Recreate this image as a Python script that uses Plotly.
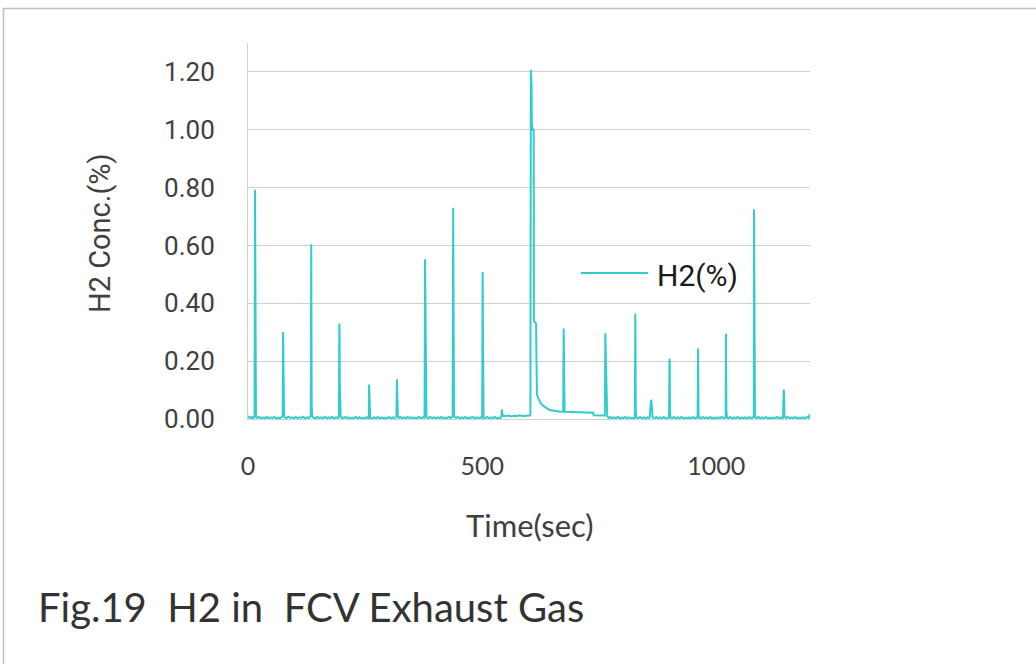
import plotly.graph_objects as go

# ---------------- data ----------------
series_name = "H2(%)"
x_title = "Time(sec)"
y_title = "H2 Conc.(%)"
caption = "Fig.19  H2 in  FCV Exhaust Gas"
y_tickvals = [0.0, 0.2, 0.4, 0.6, 0.8, 1.0, 1.2]
y_ticktext = ["0.00", "0.20", "0.40", "0.60", "0.80", "1.00", "1.20"]
x_tickvals = [0, 500, 1000]

time_sec = [
    0, 2, 5, 8, 11, 13,
    14, 15, 15.5, 16, 17,
    20, 24, 28, 32, 36, 40, 44, 48, 52, 56, 60, 64, 68, 72,
    74, 75, 75.5, 76, 77, 78,
    82, 86, 90, 94, 98, 102, 106, 110, 114, 118, 122, 126, 130, 133,
    134, 135, 136, 137,
    140, 144, 148, 152, 156, 160, 164, 168, 172, 176, 180, 184, 188, 192,
    194, 195, 195.5, 196, 197, 198,
    202, 206, 210, 214, 218, 222, 226, 230, 234, 238, 242, 246, 250, 254, 257,
    258, 258.5, 259.5, 261,
    265, 269, 273, 277, 281, 285, 289, 293, 297, 301, 305, 309, 313, 316,
    317, 318, 318.5, 319, 320, 321,
    325, 329, 333, 337, 341, 345, 349, 353, 357, 361, 365, 369, 373, 376,
    377, 378, 378.5, 379, 380, 381,
    385, 389, 393, 397, 401, 405, 409, 413, 417, 421, 425, 429, 433, 436,
    437, 438, 439, 440,
    444, 448, 452, 456, 460, 464, 468, 472, 476, 480, 484, 488, 492, 496, 499,
    500, 501, 502, 503,
    507, 511, 515, 519, 523, 527, 531, 535, 539,
    541, 542, 543, 544,
    550, 556, 562, 568, 574, 580, 586, 592, 598, 602,
    603, 604, 604.5, 605, 605.5, 606, 607, 608, 610, 610.5, 615, 616, 617, 619, 621, 624,
    627, 631, 635, 640, 646, 652, 660, 668, 672,
    673, 674, 674.5, 675, 676,
    690, 710, 737, 738, 750, 762,
    763, 765, 767,
    770, 774, 778, 782, 786, 790, 794, 798, 802, 806, 810, 814, 818, 822, 825,
    826, 827, 828, 829,
    833, 837, 841, 845, 849, 853, 857,
    858, 859, 860, 861, 862, 863, 864,
    868, 872, 876, 880, 884, 888, 892, 896, 898,
    899, 900, 900.5, 901, 902,
    906, 910, 914, 918, 922, 926, 930, 934, 938, 942, 946, 950, 954, 959,
    960, 961, 962, 963,
    967, 971, 975, 979, 983, 987, 991, 995, 999, 1003, 1007, 1011, 1015, 1019,
    1020, 1020.5, 1021.5, 1022.5,
    1026, 1030, 1034, 1038, 1042, 1046, 1050, 1054, 1058, 1062, 1066, 1070, 1074, 1079,
    1080, 1080.5, 1081.5, 1082.5,
    1086, 1090, 1094, 1098, 1102, 1106, 1110, 1114, 1118, 1122, 1126, 1130, 1134, 1138, 1142,
    1142.5, 1143.5, 1144, 1144.5, 1145.5,
    1149, 1153, 1157, 1161, 1165, 1169, 1173, 1177, 1181, 1185, 1189, 1193, 1197, 1198.5, 1199, 1200,
]

h2_pct = [
    0.004, 0.008, 0.003, 0.007, 0.002, 0.006,
    0.010, 0.793, 0.426, 0.020, 0.008,
    0.004, 0.007, 0.002, 0.006, 0.003, 0.008, 0.002, 0.006, 0.004, 0.007, 0.002, 0.005, 0.003, 0.006,
    0.012, 0.301, 0.190, 0.150, 0.020, 0.006,
    0.003, 0.008, 0.004, 0.006, 0.002, 0.007, 0.003, 0.006, 0.004, 0.008, 0.002, 0.006, 0.004, 0.007,
    0.015, 0.604, 0.050, 0.010,
    0.005, 0.002, 0.007, 0.004, 0.006, 0.003, 0.008, 0.003, 0.006, 0.004, 0.007, 0.002, 0.006, 0.004,
    0.010, 0.330, 0.300, 0.120, 0.030, 0.006,
    0.003, 0.007, 0.004, 0.006, 0.002, 0.005, 0.003, 0.007, 0.002, 0.006, 0.001, 0.005, 0.003, 0.006, 0.002,
    0.010, 0.119, 0.010, 0.004,
    0.001, 0.006, 0.002, 0.007, 0.003, 0.006, 0.002, 0.005, 0.003, 0.007, 0.002, 0.006, 0.003, 0.006,
    0.010, 0.137, 0.090, 0.060, 0.010, 0.004,
    0.007, 0.003, 0.006, 0.002, 0.007, 0.004, 0.006, 0.002, 0.005, 0.003, 0.007, 0.003, 0.006, 0.004,
    0.012, 0.552, 0.440, 0.400, 0.020, 0.006,
    0.003, 0.007, 0.004, 0.006, 0.002, 0.006, 0.003, 0.007, 0.002, 0.005, 0.003, 0.007, 0.003, 0.006,
    0.010, 0.730, 0.050, 0.008,
    0.004, 0.007, 0.002, 0.006, 0.003, 0.007, 0.002, 0.005, 0.004, 0.007, 0.002, 0.006, 0.003, 0.006, 0.004,
    0.010, 0.508, 0.020, 0.005,
    0.003, 0.007, 0.002, 0.006, 0.003, 0.007, 0.002, 0.005, 0.003,
    0.008, 0.033, 0.012, 0.010,
    0.010, 0.012, 0.009, 0.011, 0.010, 0.013, 0.010, 0.011, 0.010, 0.012,
    0.020, 1.207, 1.160, 1.160, 1.150, 1.020, 1.000, 1.000, 1.000, 0.339, 0.330, 0.090, 0.085, 0.075, 0.065, 0.058,
    0.050, 0.045, 0.040, 0.035, 0.030, 0.028, 0.026, 0.025, 0.025,
    0.030, 0.313, 0.120, 0.060, 0.025,
    0.024, 0.023, 0.022, 0.013, 0.013, 0.012,
    0.296, 0.100, 0.010,
    0.003, 0.007, 0.002, 0.006, 0.003, 0.008, 0.002, 0.005, 0.003, 0.007, 0.002, 0.006, 0.003, 0.005, 0.004,
    0.010, 0.365, 0.030, 0.005,
    0.003, 0.007, 0.002, 0.006, 0.003, 0.006, 0.004,
    0.010, 0.035, 0.060, 0.067, 0.050, 0.020, 0.006,
    0.003, 0.007, 0.002, 0.006, 0.003, 0.007, 0.002, 0.005, 0.004,
    0.012, 0.208, 0.200, 0.020, 0.006,
    0.003, 0.007, 0.002, 0.006, 0.003, 0.007, 0.002, 0.005, 0.003, 0.006, 0.002, 0.007, 0.003, 0.005,
    0.010, 0.244, 0.020, 0.005,
    0.003, 0.007, 0.002, 0.006, 0.003, 0.007, 0.002, 0.005, 0.003, 0.006, 0.002, 0.007, 0.003, 0.005,
    0.012, 0.296, 0.030, 0.005,
    0.003, 0.007, 0.002, 0.006, 0.003, 0.007, 0.002, 0.005, 0.003, 0.006, 0.002, 0.007, 0.003, 0.005,
    0.012, 0.725, 0.050, 0.006,
    0.003, 0.007, 0.002, 0.006, 0.003, 0.007, 0.002, 0.005, 0.003, 0.006, 0.002, 0.007, 0.003, 0.005, 0.004,
    0.010, 0.080, 0.102, 0.090, 0.010,
    0.003, 0.007, 0.002, 0.006, 0.003, 0.007, 0.002, 0.005, 0.003, 0.006, 0.002, 0.007, 0.003, 0.004, 0.015, 0.015,
]

# ---------------- styling / layout ----------------
W, H = 1036, 664
PL, PR, PT, PB = 248, 810, 43, 419  # plot area in pixels
LINE = "#33CCCC"
GRID = "#d0d0d0"
TXT = "#404040"
YFONT = "Roboto"
LATIN = "Lato"


def px(xp):
    return (xp - PL) / (PR - PL)


def py(yp):
    return (PB - yp) / (PB - PT)


fig = go.Figure()
fig.add_trace(go.Scatter(
    x=time_sec, y=h2_pct, mode="lines", name=series_name,
    line=dict(color=LINE, width=2), showlegend=False, hoverinfo="skip",
))

fig.update_layout(
    width=W, height=H,
    margin=dict(l=PL, r=W - PR, t=PT, b=H - PB, pad=0),
    paper_bgcolor="white", plot_bgcolor="white",
    xaxis=dict(
        range=[0, 1200], tickvals=x_tickvals, showgrid=False, zeroline=False,
        showline=True, linecolor=GRID, linewidth=1, ticks="",
        tickfont=dict(family=LATIN, size=25, color=TXT),
        ticklabelstandoff=25, layer="below traces",
    ),
    yaxis=dict(
        range=[0, 1.3], tickvals=y_tickvals, ticktext=y_ticktext,
        showgrid=True, gridcolor=GRID, gridwidth=1, zeroline=False,
        showline=True, linecolor=GRID, linewidth=1, ticks="",
        tickfont=dict(family=YFONT, size=26, color=TXT),
        ticklabelstandoff=27, layer="below traces",
    ),
    shapes=[
        # chart border (partially cropped in the original)
        dict(type="line", xref="paper", yref="paper", x0=px(3), x1=px(1040), y0=py(8.5), y1=py(8.5),
             line=dict(color="#bfbfbf", width=1.5), layer="above"),
        dict(type="line", xref="paper", yref="paper", x0=px(3.5), x1=px(3.5), y0=py(8), y1=py(670),
             line=dict(color="#bfbfbf", width=1.5), layer="above"),
        # legend background (hides gridline, lies under the trace)
        dict(type="rect", xref="paper", yref="paper", x0=px(563), x1=px(759), y0=py(300), y1=py(236),
             fillcolor="white", line=dict(width=0), layer="between"),
        # legend line sample
        dict(type="line", xref="paper", yref="paper", x0=px(581), x1=px(648), y0=py(273), y1=py(273),
             line=dict(color=LINE, width=2), layer="above"),
    ],
    annotations=[
        dict(text=series_name, xref="paper", yref="paper", x=px(655), y=py(275),
             xanchor="left", yanchor="middle", showarrow=False,
             font=dict(family=YFONT, size=30, color="#1a1a1a")),
        dict(text=y_title, xref="paper", yref="paper", x=px(100), y=py(233),
             xanchor="center", yanchor="middle", showarrow=False, textangle=-90,
             font=dict(family=YFONT, size=29, color=TXT)),
        dict(text=x_title, xref="paper", yref="paper", x=px(530), y=py(525),
             xanchor="center", yanchor="middle", showarrow=False,
             font=dict(family=LATIN, size=31, color=TXT)),
        dict(text=caption, xref="paper", yref="paper", x=px(36), y=py(607),
             xanchor="left", yanchor="middle", showarrow=False,
             font=dict(family=LATIN, size=40, color="#333333")),
    ],
)

fig.write_html("out.html", config={"displayModeBar": False},
               post_script="document.body.style.margin='0px';")
